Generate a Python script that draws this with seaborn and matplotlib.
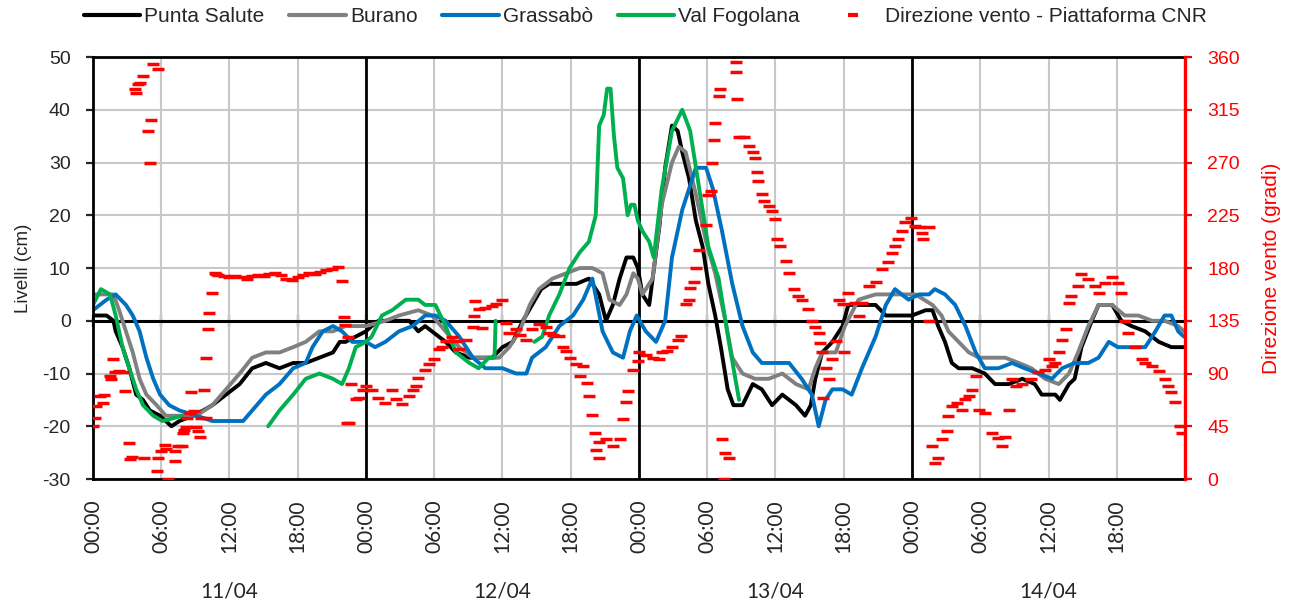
import matplotlib
matplotlib.use("Agg")

import numpy as np
import pandas as pd
import matplotlib.pyplot as plt
from matplotlib.lines import Line2D
import seaborn as sns

sns.set_style("white")
plt.rcParams["font.family"] = ["Liberation Sans", "DejaVu Sans"]
plt.rcParams["axes.unicode_minus"] = False

# ─────────────────────────────────────────────────────────────
# DATA (hours from 11/04 00:00, levels in cm, wind in degrees)
# ─────────────────────────────────────────────────────────────
ps_ore = [0.0, 1.2, 1.8, 2.0, 2.6, 3.2, 3.8, 4.4, 5.0, 5.9,
          6.9, 7.6, 8.8, 9.7, 10.5, 11.7, 12.9, 14.0, 15.2, 16.4,
          17.6, 18.7, 19.9, 21.1, 21.7, 22.2, 23.1, 24.0, 24.5, 25.1,
          26.3, 27.8, 28.6, 29.2, 29.8, 30.4, 31.0, 31.9, 33.1, 34.2,
          35.1, 36.0, 36.9, 37.8, 38.6, 39.4, 40.1, 41.0, 42.5, 43.6,
          44.5, 45.1, 45.7, 46.3, 46.9, 47.5, 47.9, 48.3, 48.9, 49.2,
          49.8, 50.3, 50.9, 51.4, 51.8, 52.4, 53.0, 53.6, 54.1, 54.7,
          55.2, 55.8, 56.3, 57.1, 58.0, 58.8, 59.7, 60.6, 61.8, 62.6,
          63.1, 63.5, 64.1, 65.0, 65.9, 66.4, 67.6, 68.8, 69.7, 70.5,
          72.0, 73.2, 73.8, 74.3, 74.9, 75.5, 76.1, 77.3, 78.4, 79.3,
          80.5, 81.7, 82.8, 83.4, 84.6, 85.0, 85.8, 86.3, 86.9, 87.8,
          88.4, 89.6, 90.4, 91.3, 92.5, 93.7, 94.8, 95.9]
ps_cm = [1, 1, 0, -2, -5, -9, -14, -15, -17, -18,
         -20, -19, -18, -17, -16, -14, -12, -9, -8, -9,
         -8, -8, -7, -6, -4, -4, -3, -2, -1, 0,
         0, 0, -2, -1, -2, -3, -4, -6, -7, -7,
         -7, -5, -4, 0, 3, 6, 7, 7, 7, 8,
         5, 0, 3, 8, 12, 12, 10, 5, 3, 8,
         18, 29, 37, 36, 32, 27, 19, 14, 7, 1,
         -5, -13, -16, -16, -12, -13, -16, -14, -16, -18,
         -16, -11, -6, -4, -1, 3, 3, 3, 1, 1,
         1, 2, 2, -1, -4, -8, -9, -9, -10, -12,
         -12, -11, -12, -14, -14, -15, -12, -11, -5, 0,
         3, 3, 0, -1, -2, -4, -5, -5]

bu_ore = [0.0, 1.8, 2.3, 2.9, 3.5, 4.1, 4.7, 5.6, 6.4, 7.6,
          9.1, 10.5, 11.7, 12.9, 14.0, 15.2, 16.4, 17.6, 18.7, 19.9,
          21.1, 22.2, 24.0, 25.7, 26.9, 28.6, 29.8, 31.0, 32.2, 33.4,
          34.5, 35.7, 36.6, 37.5, 38.4, 39.2, 40.4, 41.6, 42.8, 43.9,
          44.8, 45.4, 46.3, 46.9, 47.5, 47.9, 48.3, 49.2, 50.0, 50.9,
          51.5, 52.1, 53.0, 53.9, 54.7, 55.6, 56.2, 57.1, 58.2, 59.4,
          60.6, 61.8, 62.9, 63.5, 64.1, 65.3, 66.1, 67.3, 68.8, 70.5,
          72.3, 73.8, 74.6, 75.2, 76.1, 77.0, 77.9, 79.0, 80.2, 81.4,
          82.5, 83.7, 84.9, 85.8, 86.6, 87.5, 88.4, 89.6, 90.7, 91.9,
          93.1, 94.2, 95.4, 95.9]
bu_cm = [5, 5, 2, -2, -6, -11, -14, -16, -18, -18,
         -18, -16, -13, -10, -7, -6, -6, -5, -4, -2,
         -2, -1, -1, 0, 1, 2, 1, -2, -5, -7,
         -7, -7, -5, -2, 3, 6, 8, 9, 10, 10,
         9, 4, 3, 5, 9, 8, 5, 8, 22, 30,
         33, 32, 24, 15, 9, 0, -7, -10, -11, -11,
         -10, -12, -13, -9, -6, -6, -1, 4, 5, 5,
         5, 3, 1, -2, -4, -6, -7, -7, -7, -8,
         -9, -11, -12, -10, -6, -1, 3, 3, 1, 1,
         0, 0, -1, -2]

gr_ore = [0.0, 0.6, 1.2, 2.0, 2.9, 3.5, 4.1, 4.7, 5.3, 5.9,
          6.7, 7.6, 9.1, 10.5, 12.0, 13.2, 14.0, 15.2, 16.4, 17.6,
          18.7, 19.3, 20.2, 21.1, 21.9, 22.8, 24.0, 24.8, 25.7, 26.9,
          28.1, 29.2, 30.1, 31.0, 32.2, 33.4, 34.5, 36.0, 37.2, 38.1,
          38.6, 39.8, 41.0, 42.2, 43.1, 43.9, 44.8, 45.7, 46.6, 47.2,
          47.8, 48.6, 49.5, 50.3, 50.9, 51.8, 53.0, 53.9, 54.5, 55.3,
          56.2, 57.1, 58.0, 58.8, 60.0, 61.2, 62.3, 63.2, 63.8, 64.4,
          65.0, 65.9, 66.7, 67.6, 68.8, 69.7, 70.5, 71.7, 72.6, 73.5,
          74.0, 74.9, 75.8, 76.7, 77.6, 78.4, 79.6, 80.8, 81.9, 83.1,
          84.3, 85.2, 86.3, 87.5, 88.4, 89.3, 90.1, 91.3, 92.5, 93.4,
          94.2, 94.8, 95.4, 95.9]
gr_cm = [2, 3, 4, 5, 3, 1, -2, -7, -11, -14,
         -16, -17, -18, -19, -19, -19, -17, -14, -12, -9,
         -8, -5, -2, -1, -2, -4, -4, -5, -4, -2,
         -1, 1, 1, 0, -3, -7, -9, -9, -10, -10,
         -7, -5, -1, 1, 4, 8, -2, -6, -7, -2,
         1, -2, -4, 0, 12, 21, 29, 29, 25, 17,
         7, -1, -6, -8, -8, -8, -11, -14, -20, -15,
         -13, -13, -14, -9, -3, 3, 6, 4, 5, 5,
         6, 5, 3, -1, -6, -9, -9, -8, -9, -10,
         -11, -9, -8, -8, -7, -4, -5, -5, -5, -2,
         1, 1, -2, -3]

# Val Fogolana has gaps in the record: three separate stretches
vf_ore_1 = [0.0, 0.7, 1.5, 2.0, 2.6, 3.2, 3.8, 4.4, 5.3, 6.1, 7.9]
vf_cm_1 = [3, 6, 5, 1, -5, -9, -13, -16, -18, -19, -18]
vf_ore_2 = [15.4, 16.4, 17.6, 18.7, 19.9, 21.1, 21.9, 22.5, 23.1, 24.0,
            24.5, 25.4, 26.3, 27.5, 28.6, 29.2, 30.1, 31.0, 31.9, 33.1,
            33.9, 34.8, 35.3, 35.4]
vf_cm_2 = [-20, -17, -14, -11, -10, -11, -12, -9, -5, -4,
           -3, 1, 2, 4, 4, 3, 3, -1, -6, -8,
           -9, -7, -7, 0]
vf_ore_3 = [38.8, 39.5, 40.1, 41.0, 41.9, 42.8, 43.6, 44.2, 44.5, 44.9,
            45.2, 45.5, 45.8, 46.1, 46.6, 47.0, 47.3, 47.6, 47.9, 48.3,
            48.9, 49.3, 50.0, 50.9, 51.8, 52.5, 53.3, 54.1, 55.0, 55.9,
            56.8]
vf_cm_3 = [-4, -3, 1, 5, 10, 13, 15, 20, 37, 39,
           44, 44, 35, 29, 27, 20, 22, 22, 19, 17,
           15, 12, 25, 36, 40, 36, 25, 14, 8, -4,
           -15]

# wind direction, one list pair per day
vento_ore_11 = [0.0, 0.15, 0.3, 0.6, 0.9, 1.0, 1.5, 1.6, 1.8, 1.9,
                2.3, 2.6, 2.8, 3.2, 3.3, 3.4, 3.7, 3.8, 4.0, 4.1,
                4.4, 4.5, 4.8, 5.0, 5.1, 5.3, 5.6, 5.7, 5.7, 6.0,
                6.3, 6.4, 6.6, 7.2, 7.2, 7.5, 7.8, 7.9, 8.0, 8.2,
                8.3, 8.5, 8.6, 8.9, 9.1, 9.2, 9.4, 9.5, 9.8, 9.9,
                9.95, 10.1, 10.2, 10.5, 10.7, 10.8,
                11.0, 11.5, 12.0, 12.5, 13.0, 13.5, 14.0, 14.5, 15.0, 15.5,
                16.0, 16.5, 17.0, 17.5, 18.0, 18.5, 19.0, 19.5, 20.0, 20.5,
                21.0, 21.5, 21.9, 22.1, 22.2, 22.3, 22.4, 22.5, 22.7, 23.1,
                23.4, 23.7]
vento_gradi_11 = [45, 52, 62, 71, 65, 72, 88, 85, 102, 91,
                  92, 91, 75, 31, 17, 19, 333, 329, 337, 338,
                  344, 18, 297, 270, 306, 354, 7, 350, 18, 24,
                  29, 26, 0, 15, 24, 28, 28, 39, 42, 44,
                  52, 56, 74, 58, 44, 41, 36, 52, 76, 52,
                  103, 128, 142, 159, 176, 175,
                  174, 173, 172, 173, 172, 171, 173, 174, 173, 175,
                  176, 174, 171, 170, 172, 174, 176, 175, 177, 178,
                  179, 181, 169, 138, 131, 48, 121, 48, 81, 68,
                  69, 76]
vento_ore_12 = [24.0, 24.5, 25.1, 25.7, 26.3, 26.6, 27.2, 27.8, 28.1, 28.4,
                28.6, 29.2, 29.5, 30.0, 30.4, 30.7, 31.0, 31.6, 31.9, 32.2,
                32.8, 33.4, 33.5, 33.6, 33.9, 34.2, 34.5, 35.1, 35.4, 36.0,
                36.3, 36.6, 37.2, 37.5, 38.1, 38.6, 39.2, 39.8, 40.1, 40.4,
                41.0, 41.3, 41.6, 41.9, 42.5, 42.8, 43.1, 43.4, 43.6, 43.9,
                44.1, 44.2, 44.5, 44.5, 45.1, 45.7, 46.3, 46.6, 46.9, 47.0,
                47.5, 47.9]
vento_gradi_12 = [79, 76, 69, 65, 76, 68, 64, 71, 76, 79,
                  86, 93, 98, 102, 111, 113, 118, 121, 118, 111,
                  119, 130, 139, 152, 145, 129, 146, 148, 149, 153,
                  133, 125, 128, 123, 119, 128, 132, 130, 125, 123,
                  122, 113, 109, 103, 98, 88, 96, 82, 71, 55,
                  39, 25, 18, 32, 34, 28, 34, 51, 66, 75,
                  93, 101]
vento_ore_13 = [48.0, 48.6, 49.2, 49.8, 50.0, 50.5, 50.9, 51.4, 51.7, 52.1,
                52.4, 52.5, 52.8, 53.0, 53.3, 53.9, 54.1, 54.3, 54.4, 54.6,
                54.7, 55.0, 55.1, 55.3, 55.5, 55.6, 55.9, 56.5, 56.5, 56.6,
                56.8, 57.2, 57.7, 58.0, 58.2, 58.4, 58.5, 58.8, 59.0, 59.4,
                59.7, 60.0, 60.1, 60.4, 60.9, 61.2, 61.6, 62.0, 62.3, 62.9,
                63.2, 63.5, 63.8, 63.9, 64.1, 64.2, 64.4, 64.7, 65.0, 65.3,
                65.6, 65.9, 66.0, 66.4, 67.0, 67.3, 67.6, 68.2, 68.8, 69.4,
                69.9, 70.2, 70.5, 70.8, 71.1, 71.4, 71.9, 72.3]
vento_gradi_13 = [108, 106, 103, 102, 108, 109, 113, 119, 122, 149,
                  153, 163, 168, 180, 195, 217, 242, 246, 270, 289,
                  304, 327, 333, 34, 0, 22, 18, 356, 347, 324,
                  292, 292, 284, 279, 274, 262, 254, 243, 237, 233,
                  229, 222, 205, 199, 186, 176, 162, 156, 153, 145,
                  135, 130, 125, 116, 108, 69, 95, 85, 102, 118,
                  153, 149, 108, 159, 150, 139, 150, 165, 168, 179,
                  185, 193, 199, 205, 212, 219, 223, 216]
vento_ore_14 = [72.6, 72.9, 73.0, 73.5, 73.5, 73.8, 74.0, 74.3, 74.6, 75.1,
                75.2, 75.5, 76.0, 76.4, 76.7, 77.0, 77.3, 77.6, 77.9, 78.4,
                79.0, 79.6, 79.9, 80.2, 80.5, 80.8, 81.1, 81.7, 82.5, 83.1,
                83.7, 84.0, 84.3, 84.6, 84.9, 85.2, 85.5, 85.8, 86.0, 86.6,
                86.9, 87.5, 88.1, 88.4, 89.0, 89.6, 90.1, 90.4, 90.7, 91.0,
                91.6, 92.2, 92.5, 93.1, 93.7, 94.2, 94.5, 94.8, 95.1, 95.6,
                95.7]
vento_gradi_14 = [215, 210, 205, 215, 135, 28, 14, 18, 34, 41,
                  54, 62, 65, 59, 68, 71, 76, 88, 59, 56,
                  39, 35, 28, 36, 59, 85, 79, 81, 85, 91,
                  93, 102, 96, 99, 108, 119, 128, 150, 156, 165,
                  175, 171, 165, 159, 167, 172, 167, 159, 135, 125,
                  113, 102, 99, 96, 92, 85, 79, 74, 66, 45,
                  39]

ticks_ore = list(range(0, 96, 6))
etichette_ore = [f"{h % 24:02d}:00" for h in ticks_ore]
giorni = ["11/04", "12/04", "13/04", "14/04"]

STAZIONI = ["Punta Salute", "Burano", "Grassabò", "Val Fogolana"]
COLORI = {"Punta Salute": "#000000", "Burano": "#808080",
          "Grassabò": "#0070C0", "Val Fogolana": "#00B050"}
ROSSO = "#FF0000"

# ─────────────────────────────────────────────────────────────
# LONG TABLES
# ─────────────────────────────────────────────────────────────
pezzi = [
    ("Punta Salute", 1, ps_ore, ps_cm),
    ("Burano", 1, bu_ore, bu_cm),
    ("Grassabò", 1, gr_ore, gr_cm),
    ("Val Fogolana", 1, vf_ore_1, vf_cm_1),
    ("Val Fogolana", 2, vf_ore_2, vf_cm_2),
    ("Val Fogolana", 3, vf_ore_3, vf_cm_3),
]
livelli = pd.concat([pd.DataFrame({"stazione": s, "tratto": t, "ora": o, "cm": c})
                     for s, t, o, c in pezzi], ignore_index=True)

vento = pd.DataFrame({
    "ora": vento_ore_11 + vento_ore_12 + vento_ore_13 + vento_ore_14,
    "gradi": vento_gradi_11 + vento_gradi_12 + vento_gradi_13 + vento_gradi_14,
})

# ─────────────────────────────────────────────────────────────
# FIGURE
# ─────────────────────────────────────────────────────────────
fig = plt.figure(figsize=(12.91, 6.03), dpi=100)
ax = fig.add_axes([0.072, 0.2056, 0.8459, 0.6998])

ax.set_xlim(0, 96)
ax.set_ylim(-30, 50)
ax.set_yticks(range(-30, 51, 10))
ax.set_xticks(ticks_ore)
ax.set_xticklabels(etichette_ore, rotation=90, fontfamily="Lato", fontsize=15)
ax.tick_params(axis="x", length=0, pad=15)
ax.tick_params(axis="y", direction="out", length=5, width=1.6, labelsize=14, pad=11)
ax.set_axisbelow(True)
ax.grid(True, color="#C8C8C8", lw=1.5)
for d in (24, 48, 72):
    ax.axvline(d, color="black", lw=2.0, zorder=1.2)
ax.axhline(0, color="black", lw=2.2, zorder=1.2)
for s in ("left", "top", "bottom"):
    ax.spines[s].set_color("black")
    ax.spines[s].set_linewidth(2.0)
ax.spines["right"].set_visible(False)

sns.lineplot(data=livelli, x="ora", y="cm", hue="stazione", units="tratto",
             estimator=None, hue_order=STAZIONI, palette=COLORI,
             lw=2.8, legend=False, ax=ax)
ax.set_xlabel("")
ax.set_ylabel("Livelli (cm)", fontsize=13.5)
ax.yaxis.set_label_coords(-0.056, 0.5)

# cross ticks on the zero line
zero = ax.secondary_xaxis(30 / 80)
zero.set_xticks(ticks_ore)
zero.tick_params(axis="x", direction="inout", length=9, width=1.6,
                 labelbottom=False, labeltop=False)
for s in ("top", "bottom"):
    zero.spines[s].set_visible(False)

# day labels
days = ax.secondary_xaxis("bottom")
days.set_xticks([12, 36, 60, 84])
days.set_xticklabels(giorni, fontfamily="Lato", fontsize=15)
days.tick_params(axis="x", length=0, pad=74)
days.spines["bottom"].set_visible(False)

# wind direction on the secondary axis
ax2 = ax.twinx()
sns.scatterplot(data=vento, x="ora", y="gradi", marker="_", s=72,
                linewidth=2.5, color=ROSSO, ax=ax2, legend=False)
ax2.set_ylim(0, 360)
ax2.set_yticks(range(0, 361, 45))
ax2.tick_params(axis="y", colors=ROSSO, direction="out", length=5, width=1.6,
                labelsize=14, pad=11)
for s in ("left", "top", "bottom"):
    ax2.spines[s].set_visible(False)
ax2.spines["right"].set_color(ROSSO)
ax2.spines["right"].set_linewidth(2.4)
ax2.set_xlabel("")
ax2.set_ylabel("Direzione vento (gradi)", color=ROSSO, fontsize=15)
ax2.yaxis.set_label_coords(1.0705, 0.5)

# legend
handles = [Line2D([], [], color=COLORI[s], lw=3) for s in STAZIONI]
handles.append(Line2D([], [], ls="", marker="_", color=ROSSO, markersize=7, mew=3))
labels = STAZIONI + ["Direzione vento - Piattaforma CNR"]
fig.legend(handles, labels, loc="center", bbox_to_anchor=(0.5, 0.972), ncol=5,
           frameon=False, fontsize=15, handlelength=2.7, handletextpad=0.2,
           columnspacing=1.2)

fig.savefig("out.png", dpi=100)
